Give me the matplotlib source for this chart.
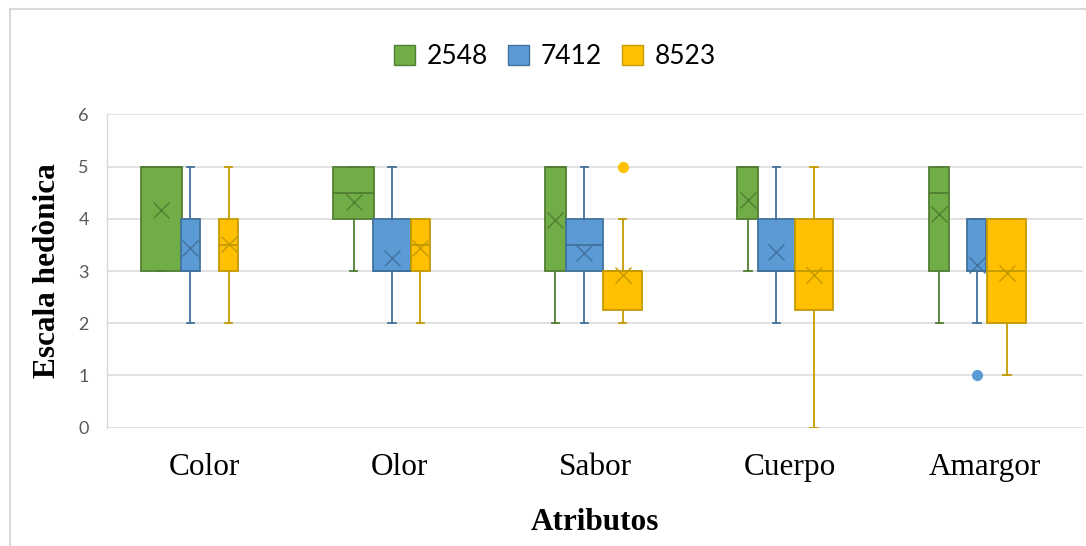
import matplotlib
matplotlib.use("Agg")
import matplotlib.pyplot as plt
from matplotlib.patches import Patch, Rectangle

# attributes rated on the hedonic scale
attributes = ['Color', 'Olor', 'Sabor', 'Cuerpo', 'Amargor']
samples = ['2548', '7412', '8523']

# per sample: lower whisker, Q1, median, Q3, upper whisker, mean, outliers
lo_2548 = [3, 3, 2, 3, 2]
q1_2548 = [3, 4, 3, 4, 3]
med_2548 = [5, 4.5, 5, 5, 4.5]
q3_2548 = [5, 5, 5, 5, 5]
hi_2548 = [5, 5, 5, 5, 5]
mean_2548 = [4.17, 4.33, 3.98, 4.36, 4.10]
out_2548 = [[], [], [], [], []]

lo_7412 = [2, 2, 2, 2, 2]
q1_7412 = [3, 3, 3, 3, 3]
med_7412 = [3, 3, 3.5, 3, 3]
q3_7412 = [4, 4, 4, 4, 4]
hi_7412 = [5, 5, 5, 5, 4]
mean_7412 = [3.44, 3.24, 3.34, 3.37, 3.12]
out_7412 = [[], [], [], [], [1]]

lo_8523 = [2, 2, 2, 0, 1]
q1_8523 = [3, 3, 2.25, 2.25, 2]
med_8523 = [3.5, 3.5, 3, 3, 3]
q3_8523 = [4, 4, 3, 4, 4]
hi_8523 = [5, 4, 4, 5, 4]
mean_8523 = [3.52, 3.44, 2.92, 2.92, 2.96]
out_8523 = [[], [], [5], [], []]

# box extents (left, right) relative to each category centre
span_2548 = [(-0.326, -0.116), (-0.342, -0.132), (-0.256, -0.149), (-0.272, -0.164), (-0.287, -0.184)]
span_7412 = [(-0.121, -0.024), (-0.137, 0.057), (-0.149, 0.041), (-0.164, 0.023), (-0.092, 0.005)]
span_8523 = [(0.074, 0.171), (0.057, 0.155), (0.041, 0.241), (0.026, 0.220), (0.010, 0.210)]

fills = ['#70AD47', '#5B9BD5', '#FFC000']
edges = ['#507E32', '#41719C', '#C49A00']

series = [
    (lo_2548, q1_2548, med_2548, q3_2548, hi_2548, mean_2548, out_2548, span_2548),
    (lo_7412, q1_7412, med_7412, q3_7412, hi_7412, mean_7412, out_7412, span_7412),
    (lo_8523, q1_8523, med_8523, q3_8523, hi_8523, mean_8523, out_8523, span_8523),
]

fig = plt.figure(figsize=(10.86, 5.46), dpi=100)
ax = fig.add_axes([107 / 1086, 1 - 427.7 / 546, 976 / 1086, (427.7 - 114.3) / 546])

for k, (lo, q1, med, q3, hi, mean, outs, span) in enumerate(series):
    stats = []
    pos = []
    wid = []
    for i in range(len(attributes)):
        stats.append(dict(whislo=lo[i], q1=q1[i], med=med[i], q3=q3[i],
                          whishi=hi[i], mean=mean[i], fliers=outs[i]))
        pos.append(i + (span[i][0] + span[i][1]) / 2)
        wid.append(span[i][1] - span[i][0])
    ec = edges[k]
    ax.bxp(stats, positions=pos, widths=wid, capwidths=0.04,
           patch_artist=True, showmeans=True, manage_ticks=False,
           boxprops=dict(facecolor=fills[k], edgecolor=ec, linewidth=1.3),
           medianprops=dict(color=ec, linewidth=1.3),
           whiskerprops=dict(color=ec, linewidth=1.3),
           capprops=dict(color=ec, linewidth=1.3),
           meanprops=dict(marker='x', markeredgecolor=ec, markersize=11,
                          markeredgewidth=1.0),
           flierprops=dict(marker='o', markerfacecolor=fills[k],
                           markeredgecolor=fills[k], markersize=7))

ax.set_xlim(-0.5, len(attributes) - 0.5)
ax.set_ylim(0, 6)
ax.set_yticks(range(7))
ax.set_xticks(range(len(attributes)))
ax.set_xticklabels(attributes, family='Liberation Serif', fontsize=22.5, color='black')
ax.tick_params(axis='x', length=0, pad=18)
ax.tick_params(axis='y', length=0, pad=13, labelsize=13, labelcolor='#595959')
for lab in ax.get_yticklabels():
    lab.set_family('Lato')

ax.grid(axis='y', color='#D9D9D9', linewidth=1.1)
ax.set_axisbelow(True)
for s in ['top', 'right', 'bottom']:
    ax.spines[s].set_visible(False)
ax.spines['left'].set_color('#D9D9D9')
ax.spines['left'].set_linewidth(1.0)

ax.set_ylabel('Escala hedònica', family='Liberation Serif', fontsize=22.5,
              fontweight='bold', labelpad=12)
ax.set_xlabel('Atributos', family='Liberation Serif', fontsize=22.5,
              fontweight='bold', labelpad=19)

handles = [Patch(facecolor=fills[k], edgecolor=edges[k], linewidth=1.0, label=samples[k])
           for k in range(3)]
fig.legend(handles=handles, loc='center', bbox_to_anchor=(555 / 1086, 1 - 57 / 546),
           ncol=3, frameon=False, prop=dict(family='Lato', size=19),
           handlelength=0.8, handleheight=0.8, handletextpad=0.45,
           columnspacing=0.75)

# chart area border
fig.patches.append(Rectangle((10 / 1086, -0.1), 1.2, 1.1 - 9 / 546, transform=fig.transFigure,
                             fill=False, edgecolor='#D9D9D9', linewidth=1.5))

fig.savefig('out.png', dpi=100)
